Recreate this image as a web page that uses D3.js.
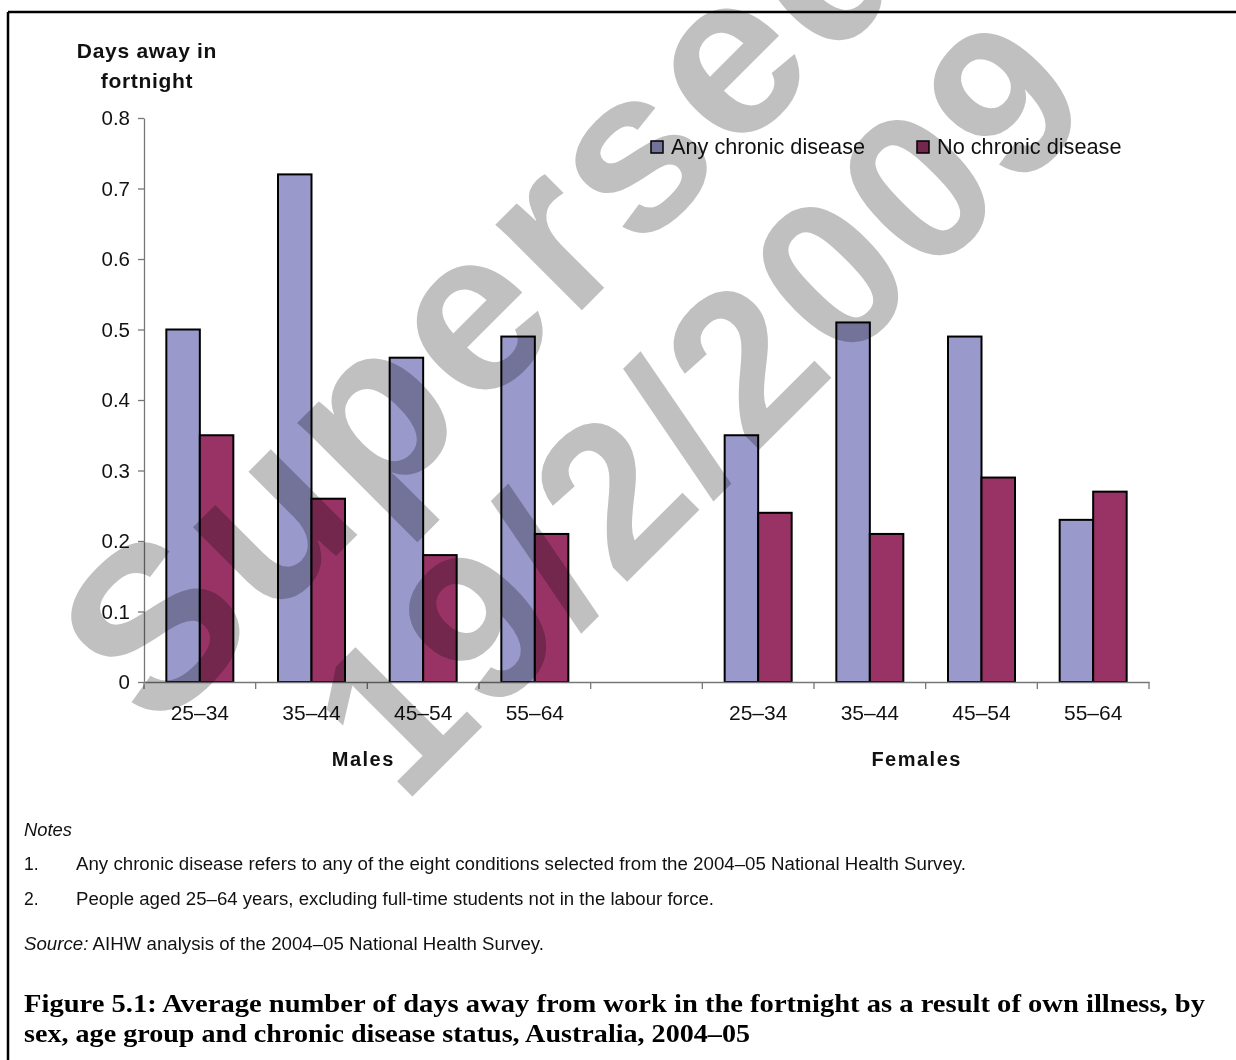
<!DOCTYPE html>
<html>
<head>
<meta charset="utf-8">
<script src="https://cdn.jsdelivr.net/npm/d3@7"></script>
<style>
  html, body { margin: 0; padding: 0; background: #fff; }
  svg { display: block; }
</style>
</head>
<body>
<svg id="chart" width="1236" height="1060"></svg>
<script>
// ---------- data ----------
const sexes = ["Males", "Females"];
const ageGroups = ["25–34", "35–44", "45–54", "55–64"];
const seriesNames = ["Any chronic disease", "No chronic disease"];
const maleAny = [0.50, 0.72, 0.46, 0.49];
const maleNone = [0.35, 0.26, 0.18, 0.21];
const femaleAny = [0.35, 0.51, 0.49, 0.23];
const femaleNone = [0.24, 0.21, 0.29, 0.27];
const yTicks = [0, 0.1, 0.2, 0.3, 0.4, 0.5, 0.6, 0.7, 0.8];
const colors = ["#9999cc", "#993366"];
const yTitle = ["Days away in", "fortnight"];
const notes = [
  "Any chronic disease refers to any of the eight conditions selected from the 2004–05 National Health Survey.",
  "People aged 25–64 years, excluding full-time students not in the labour force."
];
const sourceText = "AIHW analysis of the 2004–05 National Health Survey.";
const captionLines = [
  "Figure 5.1: Average number of days away from work in the fortnight as a result of own illness, by",
  "sex, age group and chronic disease status, Australia, 2004–05"
];
const watermark = ["Superseded", "19/2/2009"];

(function () {
const slots = [
  ...ageGroups.map(a => "M" + a),
  "gap",
  ...ageGroups.map(a => "F" + a)
];
const rows = [];
ageGroups.forEach((a, i) => rows.push({slot: "M" + a, label: a, values: [maleAny[i], maleNone[i]]}));
ageGroups.forEach((a, i) => rows.push({slot: "F" + a, label: a, values: [femaleAny[i], femaleNone[i]]}));

const svg = d3.select("#chart");
const pLeft = 144, pRight = 1149, pTop = 118, pBottom = 682;

const x0 = d3.scaleBand().domain(slots).range([pLeft, pRight]).padding(0);
const bw = x0.bandwidth();
const x1 = d3.scaleBand().domain(seriesNames).range([bw * 0.2, bw * 0.8]).padding(0);
const y = d3.scaleLinear().domain([0, 0.8]).range([pBottom, pTop]);

svg.append("rect").attr("width", 1236).attr("height", 1060).attr("fill", "#fff");

// frame
svg.append("line").attr("x1", 8).attr("x2", 1236).attr("y1", 12).attr("y2", 12)
  .attr("stroke", "#000").attr("stroke-width", 2.5);
svg.append("line").attr("x1", 8).attr("x2", 8).attr("y1", 12).attr("y2", 1060)
  .attr("stroke", "#000").attr("stroke-width", 2.5);

// bars
const g = svg.append("g");
rows.forEach(r => {
  g.selectAll(null).data(r.values).enter().append("rect")
    .attr("x", (d, i) => x0(r.slot) + x1(seriesNames[i]))
    .attr("y", d => y(d))
    .attr("width", x1.bandwidth())
    .attr("height", d => y(0) - y(d))
    .attr("fill", (d, i) => colors[i])
    .attr("stroke", "#000")
    .attr("stroke-width", 2);
});

const ff = "Liberation Sans, Arial, sans-serif";

// y axis
const yAxis = svg.append("g").attr("transform", `translate(${pLeft},0)`)
  .call(d3.axisLeft(y).tickValues(yTicks).tickFormat(d => d === 0 ? "0" : d3.format(".1f")(d))
    .tickSize(6).tickPadding(8).tickSizeOuter(0));
yAxis.select(".domain").attr("stroke", "#777").attr("stroke-width", 1.3);
yAxis.selectAll(".tick line").attr("stroke", "#777").attr("stroke-width", 1.3);
yAxis.selectAll(".tick text").attr("font-family", ff)
  .attr("font-size", 20.5).attr("fill", "#111");

// x axis
const xAxis = svg.append("g").attr("transform", `translate(0,${pBottom})`)
  .call(d3.axisBottom(x0).tickSize(0).tickPadding(23)
    .tickFormat(d => d === "gap" ? "" : d.slice(1)));
xAxis.select(".domain").attr("stroke", "#777").attr("stroke-width", 1.3);
xAxis.selectAll(".tick text").attr("font-family", ff)
  .attr("font-size", 21).attr("fill", "#111");
const bounds = slots.map(s => x0(s)).concat([pRight]);
svg.append("g").selectAll("line").data(bounds).enter().append("line")
  .attr("x1", d => d).attr("x2", d => d)
  .attr("y1", pBottom).attr("y2", pBottom + 7)
  .attr("stroke", "#777").attr("stroke-width", 1.3);

// sex labels
const sexCenters = [
  (x0("M" + ageGroups[0]) + x0("M" + ageGroups[3]) + bw) / 2 - 4,
  (x0("F" + ageGroups[0]) + x0("F" + ageGroups[3]) + bw) / 2 - 9
];
svg.append("g").selectAll("text").data(sexes).enter().append("text")
  .attr("x", (d, i) => sexCenters[i]).attr("y", 766)
  .attr("text-anchor", "middle")
  .attr("font-family", ff)
  .attr("font-weight", "bold").attr("font-size", 20).attr("letter-spacing", 1.5)
  .attr("fill", "#111")
  .text(d => d);

// y title
svg.append("g").selectAll("text").data(yTitle).enter().append("text")
  .attr("x", 147).attr("y", (d, i) => 58 + i * 30)
  .attr("text-anchor", "middle")
  .attr("font-family", ff)
  .attr("font-weight", "bold").attr("font-size", 21).attr("letter-spacing", 0.7)
  .attr("fill", "#111")
  .text(d => d);

// legend
const legX = [651, 917];
const leg = svg.append("g").selectAll("g").data(seriesNames).enter().append("g")
  .attr("transform", (d, i) => `translate(${legX[i]},141)`);
leg.append("rect").attr("width", 12).attr("height", 12)
  .attr("fill", (d, i) => colors[i]).attr("stroke", "#000").attr("stroke-width", 1.5);
leg.append("text").attr("x", 20).attr("y", 13)
  .attr("font-family", ff)
  .attr("font-size", 21.7).attr("fill", "#111")
  .text(d => d);

// notes
svg.append("text").attr("x", 24).attr("y", 836).attr("font-family", ff)
  .attr("font-size", 18).attr("font-style", "italic").attr("fill", "#111")
  .attr("textLength", 48).attr("lengthAdjust", "spacingAndGlyphs").text("Notes");
const noteWidths = [890, 638];
notes.forEach((t, i) => {
  const yy = 870 + i * 35;
  svg.append("text").attr("x", 24).attr("y", yy).attr("font-family", ff)
    .attr("font-size", 17.5).attr("fill", "#111").text((i + 1) + ".");
  svg.append("text").attr("x", 76).attr("y", yy).attr("font-family", ff)
    .attr("font-size", 17.5).attr("fill", "#111")
    .attr("textLength", noteWidths[i]).attr("lengthAdjust", "spacingAndGlyphs").text(t);
});
const src = svg.append("text").attr("x", 24).attr("y", 950).attr("font-family", ff)
  .attr("font-size", 17.5).attr("fill", "#111")
  .attr("textLength", 520).attr("lengthAdjust", "spacingAndGlyphs");
src.append("tspan").attr("font-style", "italic").text("Source:");
src.append("tspan").text(" " + sourceText);

// caption
const capWidths = [1181, 726];
captionLines.forEach((t, i) => {
  svg.append("text").attr("x", 24).attr("y", 1012 + i * 30)
    .attr("font-family", "Liberation Serif, 'DejaVu Serif', serif")
    .attr("font-weight", "bold").attr("font-size", 25).attr("fill", "#000")
    .attr("textLength", capWidths[i]).attr("lengthAdjust", "spacingAndGlyphs")
    .text(t);
});

// watermark
const wmStarts = [[156, 736], [403, 806]];
const wmSizes = [230, 212];
const wmSpacing = [6, 5];
svg.append("g").selectAll("text").data(watermark).enter().append("text")
  .attr("transform", (d, i) => `translate(${wmStarts[i][0]},${wmStarts[i][1]}) rotate(-45)`)
  .attr("font-family", ff)
  .attr("font-weight", "bold")
  .attr("font-size", (d, i) => wmSizes[i])
  .attr("letter-spacing", (d, i) => wmSpacing[i])
  .attr("fill", "#c0c0c0")
  .style("mix-blend-mode", "multiply")
  .text(d => d);
})();
</script>
</body>
</html>
